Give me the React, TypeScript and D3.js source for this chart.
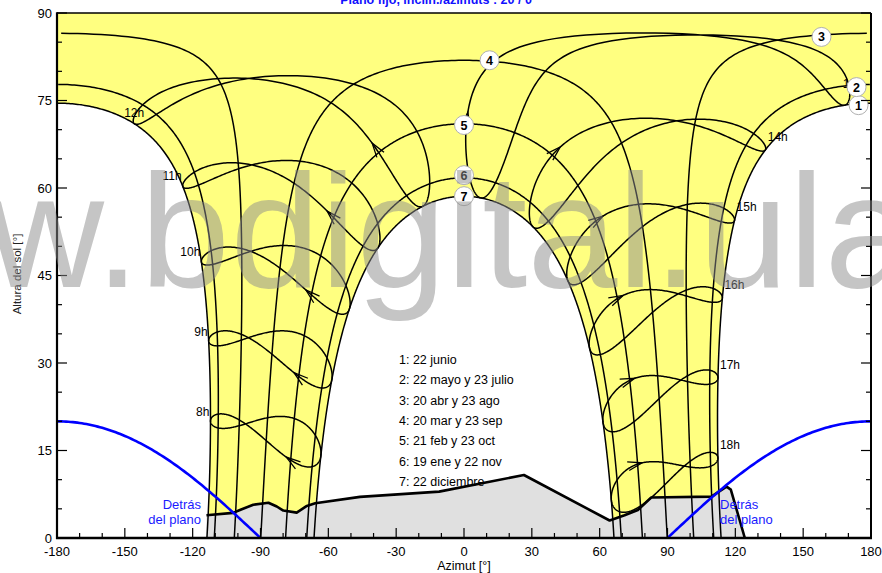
import React from "react";
import * as d3 from "d3";

// ---------------- data ----------------
const siteLatitude = 8.0; // deg N (read from the noon altitudes)
const siteLongitude = -71.15; // deg
const timeZoneHours = -4; // legal time
const planeTilt = 20; // "inclin./azimuts : 20 / 0"
const planeAzimuth = 0;

const dateNumbers = ["1", "2", "3", "4", "5", "6", "7"];
const dateLegend = [
  "1: 22 junio",
  "2: 22 mayo y 23 julio",
  "3: 20 abr y 23 ago",
  "4: 20 mar y 23 sep",
  "5: 21 feb y 23 oct",
  "6: 19 ene y 22 nov",
  "7: 22 diciembre",
];
const dateDaysOfYear = [[173], [142, 204], [110, 235], [79, 266], [52, 296], [19, 326], [356]];
const dateMarkerAz = [174.5, 173.6, 158.1, 11.3, 0, 0, 0];
const dateMarkerAlt = [74.2, 77.3, 85.9, 81.9, 70.8, 62.2, 58.6];

const legalHours = [8, 9, 10, 11, 12, 13, 14, 15, 16, 17, 18];
const hourArrowDay = 57;

const horizonAz = [-113.9, -113.9, -102.1, -99.1, -93.2, -86.5, -82.8, -79.9, -74.0, -69.5, -65.8, -46, -11, 26.5, 64.4, 71.0, 76.9, 82.8, 109.4, 116.1, 118.0, 124.2];
const horizonAlt = [0, 3.9, 4.3, 4.8, 5.7, 6.05, 5.4, 4.7, 4.35, 5.5, 5.95, 7.05, 7.95, 10.8, 3.0, 3.9, 4.8, 6.95, 7.1, 8.8, 8.3, 0];

const azTicks = [-180, -150, -120, -90, -60, -30, 0, 30, 60, 90, 120, 150, 180];
const altTicks = [0, 15, 30, 45, 60, 75, 90];

const titleText = "Plano fijo, inclin./azimuts : 20 / 0";
const watermarkText = "www.bdigital.ula.ve";

// ---------------- solar geometry ----------------
const rad = Math.PI / 180;
function declination(n: number) {
  const B = (2 * Math.PI * (n - 1)) / 365;
  return (
    (0.006918 - 0.399912 * Math.cos(B) + 0.070257 * Math.sin(B) - 0.006758 * Math.cos(2 * B) +
      0.000907 * Math.sin(2 * B) - 0.002697 * Math.cos(3 * B) + 0.00148 * Math.sin(3 * B)) / rad
  );
}
function equationOfTime(n: number) {
  const B = (2 * Math.PI * (n - 1)) / 365;
  return 229.18 * (0.000075 + 0.001868 * Math.cos(B) - 0.032077 * Math.sin(B) - 0.014615 * Math.cos(2 * B) - 0.04089 * Math.sin(2 * B));
}
function sunPosition(declDeg: number, hourAngleDeg: number): [number, number] {
  const phi = siteLatitude * rad, d = declDeg * rad, h = hourAngleDeg * rad;
  const up = Math.sin(phi) * Math.sin(d) + Math.cos(phi) * Math.cos(d) * Math.cos(h);
  const west = Math.cos(d) * Math.sin(h);
  const south = Math.sin(phi) * Math.cos(d) * Math.cos(h) - Math.cos(phi) * Math.sin(d);
  return [Math.atan2(west, south) / rad, Math.asin(Math.max(-1, Math.min(1, up))) / rad];
}
function hourAngle(legal: number, n: number) {
  const solar = legal + (siteLongitude - 15 * timeZoneHours) / 15 + equationOfTime(n) / 60;
  return (solar - 12) * 15;
}
function dayPath(decl: number) {
  const phi = siteLatitude * rad, d = decl * rad;
  const H0 = Math.acos(Math.max(-1, Math.min(1, -Math.tan(phi) * Math.tan(d)))) / rad;
  const N = 801;
  const pts: { H: number; p: [number, number] }[] = [];
  for (let i = 0; i <= N; i++) {
    const H = -H0 + (2 * H0 * i) / N;
    const p = sunPosition(decl, H);
    pts.push({ H, p: [p[0], Math.max(0, p[1])] });
  }
  return pts;
}
function splitWrap(pts: [number, number][]) {
  const segs: [number, number][][] = [];
  let cur: [number, number][] = [];
  pts.forEach((p, i) => {
    if (i > 0 && Math.abs(p[0] - pts[i - 1][0]) > 180) {
      segs.push(cur);
      cur = [];
    }
    cur.push(p);
  });
  segs.push(cur);
  return segs;
}

export default function App() {
  const x = d3.scaleLinear().domain([-180, 180]).range([57, 871]);
  const y = d3.scaleLinear().domain([0, 90]).range([538, 13]);
  const line = d3.line<[number, number]>().x((d) => x(d[0])).y((d) => y(d[1]));

  // date curves
  const dateDecls = dateDaysOfYear.map((days) => d3.mean(days.map(declination)) as number);
  const datePaths = dateDecls.map((dec) => splitWrap(dayPath(dec).map((q) => q.p)));

  // yellow zone between June and December paths
  const june = dayPath(dateDecls[0]);
  const dec = dayPath(dateDecls[6]);
  const juneNoon = 90 - Math.abs(siteLatitude - dateDecls[0]);
  const morning = june.filter((q) => q.H < 0).map((q) => q.p);
  const afternoon = june.filter((q) => q.H > 0).map((q) => q.p);
  const yellowPts: [number, number][] = [
    [-180, 90],
    [180, 90],
    [180, juneNoon],
    ...afternoon,
    ...dec.map((q) => q.p).reverse(),
    ...morning,
    [-180, juneNoon],
  ];

  // horizon
  const horizonPts = horizonAz.map((a, i) => [a, horizonAlt[i]] as [number, number]);

  // behind-the-plane boundary
  const tanB = Math.tan(planeTilt * rad);
  const leftAz = d3.range(-180, -89.9, 1);
  const rightAz = d3.range(90, 180.1, 1);
  const behind = (a: number) => [a, Math.max(0, Math.atan(-tanB * Math.cos((a - planeAzimuth) * rad)) / rad)] as [number, number];

  // hour analemmas
  const days = d3.range(1, 366);
  const analemmas = legalHours.map((hr) => days.map((n) => sunPosition(declination(n), hourAngle(hr, n))));

  const hourLabels = legalHours.map((hr, i) => {
    const pts = analemmas[i];
    const ext = hr <= 12 ? (d3.least(pts, (p) => p[0]) as [number, number]) : (d3.greatest(pts, (p) => p[0]) as [number, number]);
    let dx = -1, dy = -5, anchor = "end";
    if (hr === 12) { dx = 11; dy = -4; }
    if (hr === 13) { dx = -7; dy = -6; anchor = "start"; }
    if (hr === 14) { dx = 2; dy = -7; anchor = "start"; }
    if (hr > 14) { dx = 2; dy = -9; anchor = "start"; }
    return { text: `${hr}h`, x: x(ext[0]) + dx, y: y(ext[1]) + dy, anchor };
  });

  const arrows = analemmas.map((pts) => {
    const tip = pts[hourArrowDay - 1];
    const prev = pts[hourArrowDay - 3];
    const tx = x(tip[0]), ty = y(tip[1]);
    const ang = Math.atan2(y(prev[1]) - ty, x(prev[0]) - tx);
    const L = 15, spread = 17 * rad;
    return {
      tx, ty,
      b1: [tx + L * Math.cos(ang + spread), ty + L * Math.sin(ang + spread)],
      b2: [tx + L * Math.cos(ang - spread), ty + L * Math.sin(ang - spread)],
    };
  });

  const font = "'Liberation Sans', Arial, Helvetica, sans-serif";
  const minorX = d3.range(-180, 181, 10);
  const minorY = d3.range(0, 91, 5);

  return (
    <svg width={882} height={573} style={{ position: "absolute", left: 0, top: 0, background: "#fff" }} fontFamily={font}>
      <defs>
        <clipPath id="plotClip">
          <rect x={x(-180)} y={y(90)} width={x(180) - x(-180)} height={y(0) - y(90)} />
        </clipPath>
      </defs>
      <rect x={0} y={0} width={882} height={573} fill="#fff" />
      <g clipPath="url(#plotClip)">
        <path d={line(yellowPts) || ""} fill="#ffff80" stroke="none" />
        <path d={line(horizonPts) || ""} fill="#e0e0e0" stroke="none" />
        {datePaths.map((segs, i) =>
          segs.map((s, j) => <path key={`d${i}-${j}`} d={line(s) || ""} fill="none" stroke="#000" strokeWidth={1.5} />)
        )}
        {analemmas.map((pts, i) => (
          <path key={`a${i}`} d={(line(pts) || "") + "Z"} fill="none" stroke="#000" strokeWidth={1.5} />
        ))}
        {arrows.map((a, i) => (
          <path key={`ar${i}`} d={`M${a.b1[0]},${a.b1[1]}L${a.tx},${a.ty}L${a.b2[0]},${a.b2[1]}`} fill="none" stroke="#000" strokeWidth={1.3} />
        ))}
      </g>

      {/* legend */}
      {dateLegend.map((t, i) => (
        <text key={`l${i}`} x={399} y={364 + i * 20.3} fontSize={12.5} fill="#000">{t}</text>
      ))}

      <g clipPath="url(#plotClip)">
        <path d={line(horizonPts.slice(1)) || ""} fill="none" stroke="#000" strokeWidth={2.6} strokeLinejoin="round" />
        <path d={line(leftAz.map(behind)) || ""} fill="none" stroke="#0000ff" strokeWidth={2.6} />
        <path d={line(rightAz.map(behind)) || ""} fill="none" stroke="#0000ff" strokeWidth={2.6} />
      </g>

      {/* hour labels */}
      {hourLabels.map((h, i) => (
        <text key={`h${i}`} x={h.x} y={h.y} fontSize={12} textAnchor={h.anchor as any} fill="#000">{h.text}</text>
      ))}

      {/* date markers */}
      {dateNumbers.map((t, i) => (
        <g key={`m${i}`} transform={`translate(${x(dateMarkerAz[i])},${y(dateMarkerAlt[i])})`}>
          <circle r={9.5} fill="#fff" stroke="#b0b0b0" strokeWidth={1} />
          <text y={4.5} textAnchor="middle" fontSize={12.5} fontWeight="bold" fill="#000">{t}</text>
        </g>
      ))}

      {/* Detrás del plano */}
      <text x={201} y={509} textAnchor="end" fontSize={13} fill="#1a1aff">Detrás</text>
      <text x={201} y={524} textAnchor="end" fontSize={13} fill="#1a1aff">del plano</text>
      <text x={720} y={509} textAnchor="start" fontSize={13} fill="#1a1aff">Detrás</text>
      <text x={720} y={524} textAnchor="start" fontSize={13} fill="#1a1aff">del plano</text>

      {/* axes frame */}
      <line x1={x(-180)} x2={x(180)} y1={y(90)} y2={y(90)} stroke="#000" strokeWidth={1.5} />
      <line x1={x(180)} x2={x(180)} y1={y(90)} y2={y(0)} stroke="#000" strokeWidth={2} />
      <line x1={x(-180)} x2={x(-180)} y1={y(90) - 0.75} y2={y(0) + 1} stroke="#000" strokeWidth={2.2} />
      <line x1={x(-180) - 1} x2={x(180) + 1} y1={y(0)} y2={y(0)} stroke="#000" strokeWidth={2.6} />
      {minorX.map((v) => (
        <line key={`tx${v}`} x1={x(v)} x2={x(v)} y1={y(0)} y2={y(0) - (v % 30 === 0 ? 10 : 5)} stroke="#000" strokeWidth={1.2} />
      ))}
      {minorY.map((v) => (
        <g key={`ty${v}`}>
          <line x1={x(-180)} x2={x(-180) + (v % 15 === 0 ? 10 : 5)} y1={y(v)} y2={y(v)} stroke="#000" strokeWidth={1.2} />
          <line x1={x(180)} x2={x(180) - (v % 15 === 0 ? 10 : 5)} y1={y(v)} y2={y(v)} stroke="#000" strokeWidth={1.2} />
        </g>
      ))}
      {azTicks.map((v) => (
        <text key={`xl${v}`} x={x(v)} y={556} textAnchor="middle" fontSize={13} fill="#000">{v}</text>
      ))}
      {altTicks.map((v) => (
        <text key={`yl${v}`} x={52} y={y(v) + 4.5} textAnchor="end" fontSize={13} fill="#000">{v}</text>
      ))}
      <text x={464} y={570} textAnchor="middle" fontSize={12.5} fill="#000">Azimut [°]</text>
      <text transform="translate(21,274) rotate(-90)" textAnchor="middle" fontSize={11.5} fill="#222">Altura del sol [°]</text>

      {/* title (clipped at top) */}
      <text x={436} y={4} textAnchor="middle" fontSize={12.5} fontWeight="bold" fill="#1010ff">{titleText}</text>

      {/* watermark */}
      <text x={-247} y={287} fontSize={162} fill="#8c8c8c" opacity={0.5} fontFamily={font}>{watermarkText}</text>
    </svg>
  );
}
